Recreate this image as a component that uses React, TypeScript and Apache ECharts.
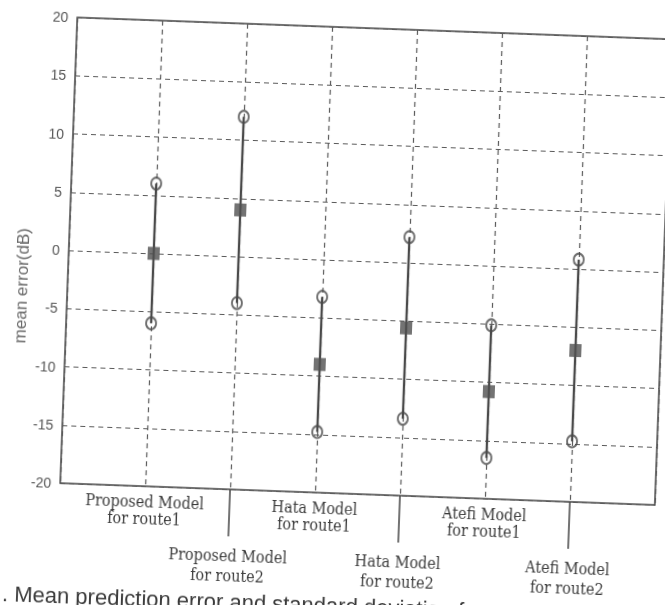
import React, { useEffect, useRef } from "react";
import * as echarts from "echarts";

// Model / route combinations along the horizontal axis
const categories = [
  "Proposed Model\nfor route1",
  "Proposed Model\nfor route2",
  "Hata Model\nfor route1",
  "Hata Model\nfor route2",
  "Atefi Model\nfor route1",
  "Atefi Model\nfor route2",
];

// Mean prediction error (dB) and its standard deviation (dB)
const meanError = [0, 4, -9, -5.6, -10.8, -7];
const stdDev = [6, 8, 5.8, 7.8, 5.7, 7.8];

const Y_MIN = -20;
const Y_MAX = 20;
const Y_STEP = 5;

const caption = ". Mean prediction error and standard deviation for";

const INK = "#4a4a4a";
const GRID_INK = "#5a5a5a";

export default function App() {
  const ref = useRef<HTMLDivElement>(null);

  useEffect(() => {
    if (!ref.current) return;
    const chart = echarts.init(ref.current, null, { renderer: "svg" });

    const positions = categories.map((_, i) => i + 1);
    const stems = positions.map((x, i) => [x, meanError[i] - stdDev[i], meanError[i] + stdDev[i]]);
    const means = positions.map((x, i) => [x, meanError[i]]);
    const bounds: number[][] = [];
    positions.forEach((x, i) => {
      bounds.push([x, meanError[i] + stdDev[i]]);
      bounds.push([x, meanError[i] - stdDev[i]]);
    });
    const labelAnchors = positions.map((x) => [x, Y_MIN]);

    const dashed = { show: true, lineStyle: { type: [5, 4] as any, color: GRID_INK, width: 1.2 } };

    chart.setOption({
      animation: false,
      backgroundColor: "#ffffff",
      grid: {
        left: 67,
        top: 27,
        width: 595,
        height: 466,
        show: true,
        borderColor: "#444",
        borderWidth: 1.5,
        backgroundColor: "transparent",
      },
      xAxis: {
        type: "value",
        min: 0,
        max: categories.length + 1,
        interval: 1,
        axisLine: { show: false },
        axisTick: { show: false },
        axisLabel: { show: false },
        splitLine: dashed,
      },
      yAxis: {
        type: "value",
        min: Y_MIN,
        max: Y_MAX,
        interval: Y_STEP,
        axisLine: { show: false },
        axisTick: { show: false },
        axisLabel: {
          color: "#555",
          fontSize: 14,
          fontFamily: '"Liberation Sans", Arial, sans-serif',
          margin: 9,
        },
        splitLine: dashed,
      },
      graphic: [
        {
          type: "text",
          x: 21,
          y: 297,
          rotation: Math.PI / 2,
          style: {
            text: "mean error(dB)",
            fill: "#666",
            font: '17px "Liberation Sans", Arial, sans-serif',
            align: "center",
            verticalAlign: "middle",
          },
        },
        {
          type: "text",
          x: 13,
          y: 616,
          style: {
            text: caption,
            fill: "#3a3a3a",
            font: '22px "Liberation Sans", Arial, sans-serif',
            align: "left",
            verticalAlign: "bottom",
          },
        },
      ],
      series: [
        {
          type: "custom",
          silent: true,
          encode: { x: 0, y: [1, 2] },
          data: stems,
          renderItem: (_params: any, api: any) => {
            const x = api.value(0);
            const lo = api.coord([x, api.value(1)]);
            const hi = api.coord([x, api.value(2)]);
            return {
              type: "line",
              shape: { x1: lo[0], y1: lo[1], x2: hi[0], y2: hi[1] },
              style: { stroke: INK, lineWidth: 2.3 },
            };
          },
          z: 3,
        },
        {
          type: "scatter",
          silent: true,
          data: bounds,
          symbol: "circle",
          symbolSize: [10, 12],
          itemStyle: { color: "rgba(0,0,0,0)", borderColor: INK, borderWidth: 2 },
          z: 4,
        },
        {
          type: "scatter",
          silent: true,
          data: means,
          symbol: "rect",
          symbolSize: [12, 13],
          itemStyle: { color: "#505050" },
          z: 5,
        },
        {
          // category labels, alternating between two rows
          type: "custom",
          silent: true,
          clip: false,
          encode: { x: 0, y: 1 },
          data: labelAnchors,
          renderItem: (params: any, api: any) => {
            const idx = params.dataIndex;
            const pt = api.coord([api.value(0), api.value(1)]);
            const lower = idx % 2 === 1;
            const children: any[] = [];
            if (lower) {
              children.push({
                type: "line",
                shape: { x1: pt[0], y1: pt[1], x2: pt[0], y2: pt[1] + 47 },
                style: { stroke: "#444", lineWidth: 1.5 },
              });
            }
            children.push({
              type: "text",
              x: pt[0],
              y: pt[1] + (lower ? 56 : 7),
              style: {
                text: categories[idx],
                fill: "#3c3c3c",
                font: '16px "DejaVu Serif Condensed", "DejaVu Serif", serif',
                align: "center",
                verticalAlign: "top",
                lineHeight: lower ? 20 : 17,
              },
            });
            return { type: "group", children };
          },
          z: 6,
        },
      ],
    });

    return () => chart.dispose();
  }, []);

  return (
    <div
      ref={ref}
      style={{
        position: "fixed",
        left: 0,
        top: 0,
        width: 665,
        height: 640,
        transform: "rotate(2.1deg)",
        transformOrigin: "332.5px 302.5px",
      }}
    />
  );
}
